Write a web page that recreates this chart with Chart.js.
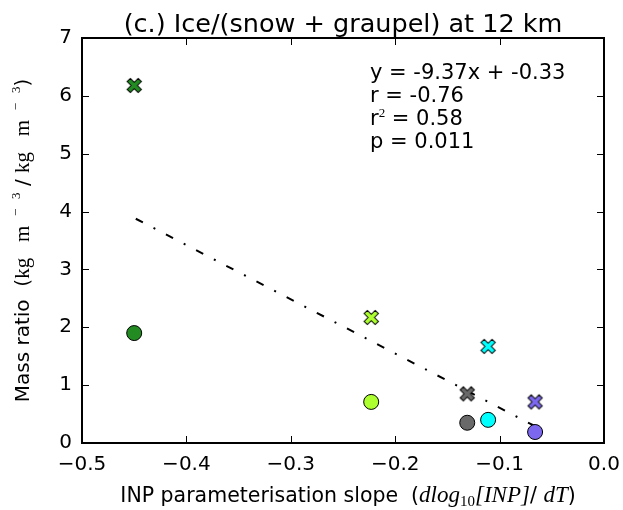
<!DOCTYPE html>
<html>
<head>
<meta charset="utf-8">
<script src="https://cdn.jsdelivr.net/npm/chart.js@4"></script>
<style>
    html, body { margin: 0; padding: 0; background: #fff; }
    #wrap { width: 623px; height: 510px; }
</style>
</head>
<body>
<div id="wrap"><canvas id="ratio"></canvas></div>
<script>
// INP parameterisation slopes (one per simulation)
const slopes = [-0.45, -0.223, -0.131, -0.111, -0.066];
// X markers and circle markers
const crossValues = [6.18, 2.17, 0.85, 1.67, 0.71];
const circleValues = [1.90, 0.71, 0.35, 0.40, 0.19];
const pointColours = ['#228B22', '#ADFF2F', '#696969', '#00FFFF', '#7B68EE'];

// regression line end points (drawn right to left)
const fitX = [-0.066, -0.45];
const fitY = [0.29, 3.89];

const xTicks = [-0.5, -0.4, -0.3, -0.2, -0.1, 0.0];
const yTicks = [0, 1, 2, 3, 4, 5, 6, 7];

const statsLines = ['y = -9.37x + -0.33', 'r = -0.76', 'r2 = 0.58', 'p = 0.011'];

const SANS = '"DejaVu Sans", sans-serif';
const SERIF = '"Liberation Serif", "DejaVu Serif", serif';

// filled "X" marker like matplotlib's
function makeCross(colour) {
    const size = 19;
    const c = document.createElement('canvas');
    c.width = size;
    c.height = size;
    const ctx = c.getContext('2d');
    const r = 7.8, t = 2.3;
    const pts = [[-t, -r], [t, -r], [t, -t], [r, -t], [r, t], [t, t],
                 [t, r], [-t, r], [-t, t], [-r, t], [-r, -t], [-t, -t]];
    ctx.translate(size / 2, size / 2);
    ctx.rotate(Math.PI / 4);
    ctx.beginPath();
    pts.forEach(([px, py], i) => i ? ctx.lineTo(px, py) : ctx.moveTo(px, py));
    ctx.closePath();
    ctx.fillStyle = colour;
    ctx.fill();
    ctx.lineWidth = 1;
    ctx.strokeStyle = '#000';
    ctx.stroke();
    return c;
}

const crossImages = pointColours.map(makeCross);

function formatTick(v) {
    const s = Number(v).toFixed(1);
    return s.replace('-', '\u2212');
}

// draw a run of text pieces with different fonts
function drawPieces(ctx, pieces, x, y) {
    let cx = x;
    pieces.forEach(p => {
        ctx.font = p.font;
        ctx.fillText(p.text, cx, y + (p.dy || 0));
        cx += ctx.measureText(p.text).width;
    });
}

function piecesWidth(ctx, pieces) {
    return pieces.reduce((acc, p) => {
        ctx.font = p.font;
        return acc + ctx.measureText(p.text).width;
    }, 0);
}

const decorations = {
    id: 'decorations',
    afterDraw(chart) {
        const { ctx, chartArea: a, scales } = chart;
        ctx.save();
        ctx.strokeStyle = '#000';
        ctx.fillStyle = '#000';

        // inward ticks on all four sides
        ctx.lineWidth = 1;
        ctx.beginPath();
        xTicks.forEach(v => {
            const px = Math.round(scales.x.getPixelForValue(v)) + 0.5;
            ctx.moveTo(px, a.bottom); ctx.lineTo(px, a.bottom - 7);
            ctx.moveTo(px, a.top); ctx.lineTo(px, a.top + 7);
        });
        yTicks.forEach(v => {
            const py = Math.round(scales.y.getPixelForValue(v)) + 0.5;
            ctx.moveTo(a.left, py); ctx.lineTo(a.left + 7, py);
            ctx.moveTo(a.right, py); ctx.lineTo(a.right - 7, py);
        });
        ctx.stroke();

        // frame
        ctx.lineWidth = 2;
        ctx.strokeRect(a.left, a.top, a.right - a.left, a.bottom - a.top);

        const midX = (a.left + a.right) / 2;

        // title
        ctx.font = '25.5px ' + SANS;
        ctx.textAlign = 'center';
        ctx.textBaseline = 'alphabetic';
        ctx.fillText('(c.) Ice/(snow + graupel) at 12 km', midX, 32);

        // stats text
        ctx.textAlign = 'left';
        const sx = 370;
        const sy = 79;
        const lh = 23;
        ctx.font = '21px ' + SANS;
        ctx.fillText(statsLines[0], sx, sy);
        ctx.fillText(statsLines[1], sx, sy + lh);
        drawPieces(ctx, [
            { text: 'r', font: '21px ' + SANS },
            { text: '2', font: '13px ' + SERIF, dy: -8 },
            { text: ' = 0.58', font: '21px ' + SANS }
        ], sx, sy + 2 * lh);
        ctx.font = '21px ' + SANS;
        ctx.fillText(statsLines[3], sx, sy + 3 * lh);

        // x axis label
        const xPieces = [
            { text: 'INP parameterisation slope  (', font: '20.5px ' + SANS },
            { text: 'dlog', font: 'italic 23px ' + SERIF },
            { text: '10', font: '15px ' + SERIF, dy: 4 },
            { text: '[INP]', font: 'italic 23px ' + SERIF },
            { text: '/ ', font: '20.5px ' + SANS },
            { text: 'dT', font: 'italic 23px ' + SERIF },
            { text: ')', font: '20.5px ' + SANS }
        ];
        const xw = piecesWidth(ctx, xPieces);
        drawPieces(ctx, xPieces, midX - xw / 2 + 5, 502);

        // y axis label, rotated
        const yPieces = [
            { text: 'Mass ratio  (', font: '20px ' + SANS },
            { text: 'kg   m', font: '21px ' + SERIF },
            { text: '   \u2212   3', font: '13px ' + SERIF, dy: -9 },
            { text: ' / ', font: '20px ' + SANS },
            { text: 'kg   m', font: '21px ' + SERIF },
            { text: '   \u2212   3', font: '13px ' + SERIF, dy: -9 },
            { text: ')', font: '20px ' + SANS }
        ];
        const yw = piecesWidth(ctx, yPieces);
        const midY = (a.top + a.bottom) / 2;
        ctx.translate(29, midY);
        ctx.rotate(-Math.PI / 2);
        drawPieces(ctx, yPieces, -yw / 2, 0);

        ctx.restore();
    }
};

new Chart(
    document.getElementById('ratio'),
    {
        type: 'scatter',
        data: {
            datasets: [
                {
                    data: slopes.map((x, i) => ({ x, y: crossValues[i] })),
                    pointStyle: crossImages,
                    pointRadius: 9,
                    pointHoverRadius: 9,
                },
                {
                    data: slopes.map((x, i) => ({ x, y: circleValues[i] })),
                    pointStyle: 'circle',
                    pointRadius: 7.5,
                    pointHoverRadius: 7.5,
                    backgroundColor: pointColours,
                    borderColor: '#000',
                    borderWidth: 1,
                },
                {
                    type: 'line',
                    data: fitX.map((x, i) => ({ x, y: fitY[i] })),
                    borderColor: '#000',
                    borderWidth: 2,
                    borderDash: [8, 12, 2, 12],
                    pointRadius: 0,
                    fill: false,
                }
            ]
        },
        options: {
            responsive: true,
            maintainAspectRatio: false,
            animation: false,
            events: [],
            layout: {
                padding: { left: 0, top: 38, right: 19, bottom: 0 }
            },
            plugins: {
                legend: { display: false },
                tooltip: { enabled: false },
                title: { display: false }
            },
            scales: {
                x: {
                    type: 'linear',
                    min: -0.5,
                    max: 0.0,
                    afterFit: (scale) => { scale.height = 67; },
                    afterBuildTicks: (scale) => {
                        scale.ticks = xTicks.map(value => ({ value }));
                    },
                    grid: { display: false },
                    border: { display: false },
                    ticks: {
                        color: '#000',
                        font: { family: SANS, size: 20 },
                        padding: 2,
                        maxRotation: 0,
                        callback: (value) => formatTick(value)
                    }
                },
                y: {
                    type: 'linear',
                    min: 0,
                    max: 7,
                    afterFit: (scale) => { scale.width = 82; },
                    afterBuildTicks: (scale) => {
                        scale.ticks = yTicks.map(value => ({ value }));
                    },
                    grid: { display: false },
                    border: { display: false },
                    ticks: {
                        color: '#000',
                        font: { family: SANS, size: 20 },
                        padding: 2,
                        callback: (value) => String(value)
                    }
                }
            }
        },
        plugins: [decorations]
    }
);
</script>
</body>
</html>
